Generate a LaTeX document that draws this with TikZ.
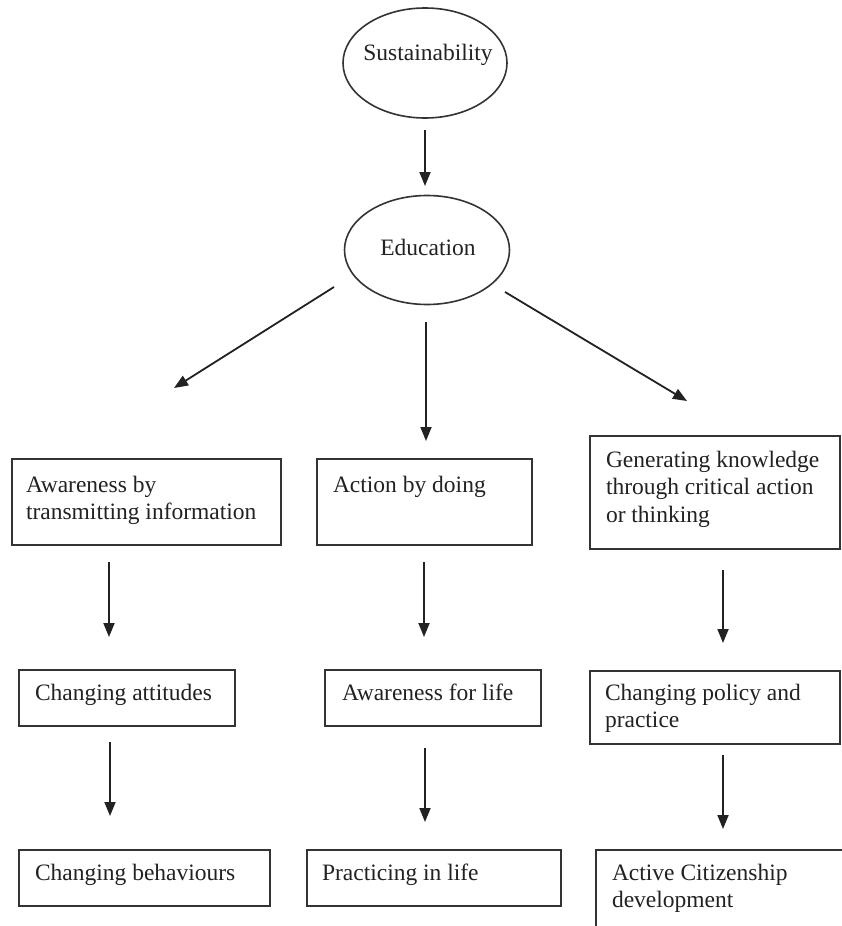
\documentclass[tikz,border=0pt]{standalone}
\usepackage{fontspec}
\setmainfont{Liberation Serif}
\usetikzlibrary{shapes.geometric,arrows.meta}
\definecolor{ink}{HTML}{222222}
\definecolor{edge}{HTML}{333333}
\newcommand\lines[1]{\parbox[t]{300pt}{\raggedright #1}}
\begin{document}
\begin{tikzpicture}[x=1pt,y=-1pt,
  every node/.style={inner sep=0pt, outer sep=0pt},
  oval/.style={draw=edge, line width=1.6pt, ellipse},
  boxnode/.style={draw=edge, line width=1.8pt, rectangle, anchor=north west},
  label/.style={anchor=base west, text=ink, font=\fontsize{23.5}{27.5}\selectfont},
  olabel/.style={anchor=center, text=ink, font=\fontsize{23.5}{27.5}\selectfont},
  arr/.style={draw=ink, line width=1.8pt, -{Triangle[length=14pt,width=11pt]}}]
\useasboundingbox[fill=white] (0,0) rectangle (842,926);

% ellipses
\node[oval, minimum width=164pt, minimum height=110pt] (sus) at (425,63) {};
\node[olabel] (sust) at (428,55) {Sustainability};
\node[oval, minimum width=165pt, minimum height=109pt] (edu) at (427,250) {};
\node[olabel] (edut) at (428,247) {Education};

% boxes row 1
\node[boxnode, minimum width=269pt, minimum height=86pt] (b1) at (12,459) {};
\node[label] (t1) at (26,492) {\lines{Awareness by\\transmitting information}};
\node[boxnode, minimum width=215pt, minimum height=86pt] (b2) at (317,459) {};
\node[label] (t2) at (333,492) {\lines{Action by doing}};
\node[boxnode, minimum width=250pt, minimum height=113pt] (b3) at (590,436) {};
\node[label] (t3) at (606,467) {\lines{Generating knowledge\\through critical action\\or thinking}};

% boxes row 2
\node[boxnode, minimum width=216pt, minimum height=56pt] (b4) at (19,670) {};
\node[label] (t4) at (35,700) {\lines{Changing attitudes}};
\node[boxnode, minimum width=216pt, minimum height=56pt] (b5) at (325,670) {};
\node[label] (t5) at (342,700) {\lines{Awareness for life}};
\node[boxnode, minimum width=250pt, minimum height=73pt] (b6) at (590,671) {};
\node[label] (t6) at (605,700) {\lines{Changing policy and\\practice}};

% boxes row 3
\node[boxnode, minimum width=251pt, minimum height=56pt] (b7) at (19,850) {};
\node[label] (t7) at (35,880) {\lines{Changing behaviours}};
\node[boxnode, minimum width=254pt, minimum height=56pt] (b8) at (307,850) {};
\node[label] (t8) at (322,880) {\lines{Practicing in life}};
\node[boxnode, minimum width=248pt, minimum height=90pt] (b9) at (596,850) {};
\node[label] (t9) at (612,880) {\lines{Active Citizenship\\development}};

% arrow end points
\coordinate (s0) at (425,130); \coordinate (s1) at (425,186);
\coordinate (l0) at (334,287); \coordinate (l1) at (174,388);
\coordinate (m0) at (426,322); \coordinate (m1) at (426,441);
\coordinate (r0) at (505,292); \coordinate (r1) at (687,401);
\coordinate (p0) at (109,562); \coordinate (p1) at (109,637);
\coordinate (q0) at (424,562); \coordinate (q1) at (424,637);
\coordinate (u0) at (723,570); \coordinate (u1) at (723,643);
\coordinate (v0) at (110,742); \coordinate (v1) at (110,816);
\coordinate (w0) at (425,748); \coordinate (w1) at (425,822);
\coordinate (z0) at (723,755); \coordinate (z1) at (723,829);

\draw[arr] (s0) -- (s1);
\draw[arr] (l0) -- (l1);
\draw[arr] (m0) -- (m1);
\draw[arr] (r0) -- (r1);
\draw[arr] (p0) -- (p1);
\draw[arr] (q0) -- (q1);
\draw[arr] (u0) -- (u1);
\draw[arr] (v0) -- (v1);
\draw[arr] (w0) -- (w1);
\draw[arr] (z0) -- (z1);
\end{tikzpicture}
\end{document}
